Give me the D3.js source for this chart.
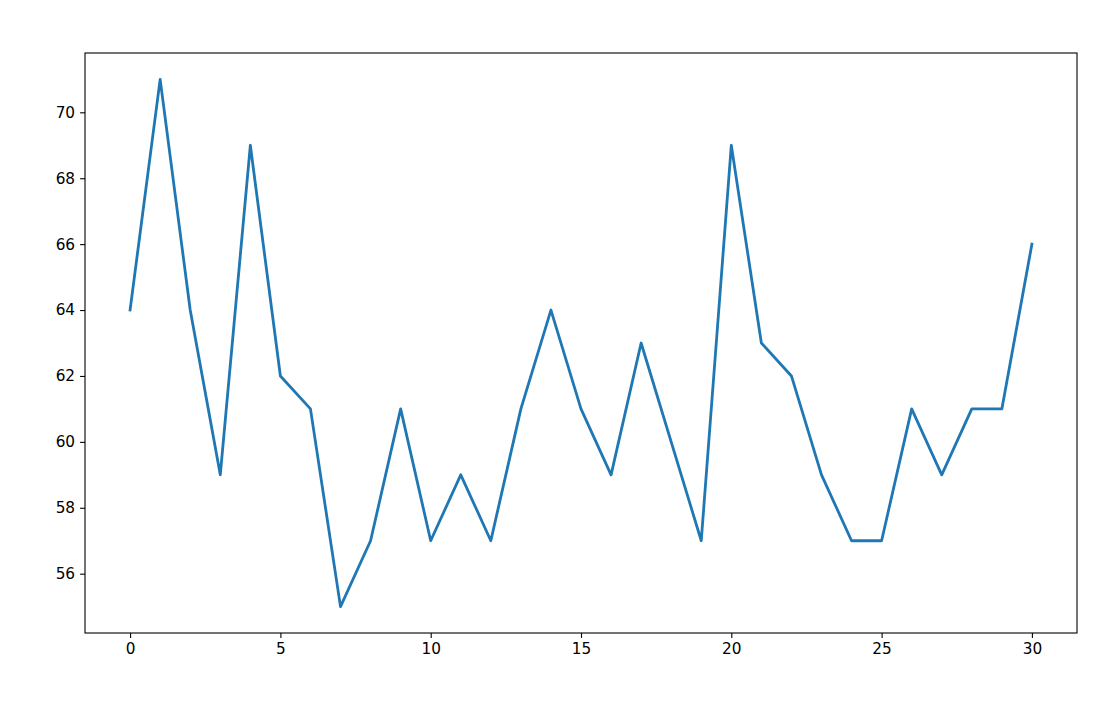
<!DOCTYPE html>
<html>
<head>
<meta charset="utf-8">
<script src="https://cdn.jsdelivr.net/npm/d3@7"></script>
<style>
  body { margin: 0; background: #fff; }
  svg { display: block; }
  .tick text { font-family: "DejaVu Sans", sans-serif; font-size: 15.3px; fill: #000; }
</style>
</head>
<body>
<div id="chart"></div>
<script>
const days = d3.range(0, 31);
const values = [64, 71, 64, 59, 69, 62, 61, 55, 57, 61, 57, 59, 57, 61, 64, 61,
  59, 63, 60, 57, 69, 63, 62, 59, 57, 57, 61, 59, 61, 61, 66];
const xTicks = [0, 5, 10, 15, 20, 25, 30];
const yTicks = [56, 58, 60, 62, 64, 66, 68, 70];

const width = 1093;
const height = 713;
const margin = { top: 53, right: 16, bottom: 80, left: 85 };

const svg = d3.select('#chart')
  .append('svg')
  .attr('width', width)
  .attr('height', height);

// matplotlib style 5% padding on both axes
const xPad = (d3.max(days) - d3.min(days)) * 0.05;
const yPad = (d3.max(values) - d3.min(values)) * 0.05;

const x = d3.scaleLinear()
  .domain([d3.min(days) - xPad, d3.max(days) + xPad])
  .range([margin.left, width - margin.right]);

const y = d3.scaleLinear()
  .domain([d3.min(values) - yPad, d3.max(values) + yPad])
  .range([height - margin.bottom, margin.top]);

const xAxis = svg.append('g')
  .attr('transform', `translate(0,${height - margin.bottom})`)
  .call(d3.axisBottom(x).tickValues(xTicks).tickSize(4.9).tickPadding(5).tickFormat(d3.format('d')));

const yAxis = svg.append('g')
  .attr('transform', `translate(${margin.left},0)`)
  .call(d3.axisLeft(y).tickValues(yTicks).tickSize(4.9).tickPadding(5).tickFormat(d3.format('d')));

[xAxis, yAxis].forEach((axis) => {
  axis.select('.domain').remove();
  axis.selectAll('.tick line').attr('stroke', '#000').attr('stroke-width', 1.1);
});

const line = d3.line()
  .x((d, i) => x(days[i]))
  .y((d) => y(d));

svg.append('path')
  .datum(values)
  .attr('d', line)
  .attr('fill', 'none')
  .attr('stroke', '#1f77b4')
  .attr('stroke-width', 2.8)
  .attr('stroke-linejoin', 'round')
  .attr('stroke-linecap', 'square');

// axes frame
svg.append('rect')
  .attr('x', margin.left)
  .attr('y', margin.top)
  .attr('width', width - margin.left - margin.right)
  .attr('height', height - margin.top - margin.bottom)
  .attr('fill', 'none')
  .attr('stroke', '#000')
  .attr('stroke-width', 1.1);
</script>
</body>
</html>
